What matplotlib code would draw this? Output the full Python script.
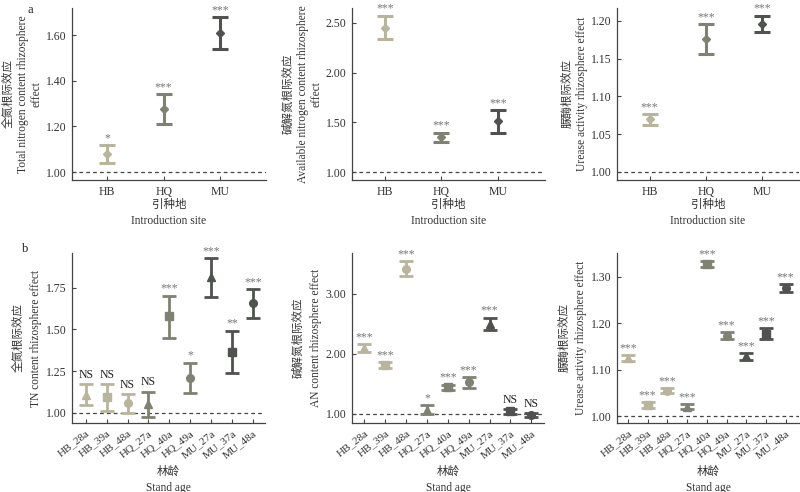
import numpy as np
import matplotlib
matplotlib.use("Agg")
import matplotlib.pyplot as plt

plt.rcParams['font.family'] = ['Liberation Serif', 'Noto Sans CJK SC']
plt.rcParams['axes.unicode_minus'] = False

# ---- data: introduction site (panel a) ----
sites = ['HB', 'HQ', 'MU']
tn_mean = [1.08, 1.276, 1.611]
tn_lo = [1.041, 1.21, 1.542]
tn_hi = [1.118, 1.342, 1.681]
tn_sig = ['*', '***', '***']

an_mean = [2.453, 1.349, 1.514]
an_lo = [2.336, 1.305, 1.396]
an_hi = [2.571, 1.396, 1.624]
an_sig = ['***', '***', '***']

ur_mean = [1.0698, 1.1757, 1.196]
ur_lo = [1.0623, 1.1563, 1.1854]
ur_hi = [1.0764, 1.1956, 1.2066]
ur_sig = ['***', '***', '***']

# ---- data: stand age (panel b) ----
ages = ['HB_28a', 'HB_39a', 'HB_48a', 'HQ_27a', 'HQ_40a', 'HQ_49a',
        'MU_27a', 'MU_37a', 'MU_48a']
tn2_mean = [1.106, 1.094, 1.056, 1.052, 1.58, 1.206, 1.812, 1.366, 1.656]
tn2_lo = [1.046, 1.012, 0.996, 0.972, 1.45, 1.116, 1.696, 1.236, 1.566]
tn2_hi = [1.17, 1.17, 1.11, 1.126, 1.702, 1.30, 1.926, 1.492, 1.74]
tn2_sig = ['NS', 'NS', 'NS', 'NS', '***', '*', '***', '**', '***']

an2_mean = [2.10, 1.81, 3.405, 1.066, 1.437, 1.52, 2.49, 1.04, 0.975]
an2_lo = [2.033, 1.758, 3.289, 1.0, 1.387, 1.426, 2.393, 0.995, 0.945]
an2_hi = [2.161, 1.857, 3.537, 1.138, 1.481, 1.608, 2.597, 1.077, 1.005]
an2_sig = ['***', '***', '***', '*', '***', '***', '***', 'NS', 'NS']

ur2_mean = [1.125, 1.024, 1.055, 1.021, 1.327, 1.1736, 1.1286, 1.177, 1.275]
ur2_lo = [1.12, 1.018, 1.05, 1.016, 1.32, 1.1665, 1.1215, 1.1658, 1.268]
ur2_hi = [1.1315, 1.030, 1.061, 1.0265, 1.3336, 1.181, 1.1358, 1.1894, 1.2837]
ur2_sig = ['***'] * 9

site_colors = {'HB': '#b9b59c', 'HQ': '#7f8172', 'MU': '#4f524e'}
age_markers = ['^', 's', 'o'] * 3
txt = '#333333'
star_col = '#777777'
FS_TICK = 8.5
FS_LAB = 8.3

fig = plt.figure(figsize=(8, 4.92), dpi=100)
W, H = 800.0, 492.0


def make_ax(x0, x1, ytop, ybot):
    return fig.add_axes([x0 / W, 1 - ybot / H, (x1 - x0) / W, (ybot - ytop) / H])


def style(ax):
    for s in ['top', 'right']:
        ax.spines[s].set_visible(False)
    for s in ['left', 'bottom']:
        ax.spines[s].set_color('#444444')
        ax.spines[s].set_linewidth(0.9)
    ax.tick_params(direction='in', length=3, width=0.8, colors='#444444',
                   labelcolor=txt, labelsize=FS_TICK, pad=4)
    ax.axhline(1.0, color='#444444', ls=(0, (3, 2.5)), lw=0.9, zorder=1)


def draw(ax, labels, mean, lo, hi, sig, markers, ms, capsize, lw, sig_off):
    x = np.arange(len(labels))
    for i, lab in enumerate(labels):
        c = site_colors[lab[:2]]
        ax.errorbar(x[i], mean[i], yerr=[[mean[i] - lo[i]], [hi[i] - mean[i]]],
                    fmt=markers[i], color=c, ms=ms, capsize=capsize,
                    elinewidth=lw, capthick=lw, zorder=3)
        if sig[i] == 'NS':
            ax.text(x[i], hi[i] + sig_off, 'NS', ha='center', va='bottom',
                    fontsize=8.5, color='#222222')
        else:
            ax.text(x[i], hi[i] + sig_off * 0.3, sig[i], ha='center', va='bottom',
                    fontsize=8.5, color=star_col)
    ax.set_xticks(x)


# ---- top row ----
ax1 = make_ax(72, 266, 8, 180)
ax2 = make_ax(352, 545, 8, 180)
ax3 = make_ax(617, 799, 8, 180)

tops = [
    (ax1, tn_mean, tn_lo, tn_hi, tn_sig, (0.965, 1.72), (-0.62, 2.81),
     [1.0, 1.2, 1.4, 1.6], '全氮根际效应\nTotal nitrogen content rhizosphere\neffect'),
    (ax2, an_mean, an_lo, an_hi, an_sig, (0.92, 2.65), (-0.58, 2.83),
     [1.0, 1.5, 2.0, 2.5], '碱解氮根际效应\nAvailable nitrogen content rhizosphere\neffect'),
    (ax3, ur_mean, ur_lo, ur_hi, ur_sig, (0.9894, 1.217), (-0.58, 2.65),
     [1.0, 1.05, 1.10, 1.15, 1.20], '脲酶根际效应\nUrease activity rhizosphere effect'),
]
for ax, m, lo, hi, sg, yl, xl, yt, ylab in tops:
    style(ax)
    span = yl[1] - yl[0]
    draw(ax, sites, m, lo, hi, sg, ['D'] * 3, 4, 6, 2.2, span * 0.02)
    ax.set_ylim(*yl)
    ax.set_xlim(*xl)
    ax.set_yticks(yt)
    ax.set_yticklabels(['%.2f' % v for v in yt])
    ax.set_xticklabels(sites)
    ax.set_xlabel('引种地\nIntroduction site', fontsize=FS_LAB, color=txt,
                  linespacing=1.45, labelpad=1)
    ax.set_ylabel(ylab, fontsize=FS_LAB, color=txt, linespacing=1.25, labelpad=2)

# ---- bottom row ----
bx1 = make_ax(72, 265, 253, 423)
bx2 = make_ax(352, 544, 253, 423)
bx3 = make_ax(617, 799, 253, 423)

bots = [
    (bx1, tn2_mean, tn2_lo, tn2_hi, tn2_sig, (0.938, 1.958), (-0.66, 8.58),
     [1.0, 1.25, 1.5, 1.75], '全氮根际效应\nTN content rhizosphere effect'),
    (bx2, an2_mean, an2_lo, an2_hi, an2_sig, (0.846, 3.675), (-0.59, 8.61),
     [1.0, 2.0, 3.0], '碱解氮根际效应\nAN content rhizosphere effect'),
    (bx3, ur2_mean, ur2_lo, ur2_hi, ur2_sig, (0.9857, 1.351), (-0.56, 8.68),
     [1.0, 1.1, 1.2, 1.3], '脲酶根际效应\nUrease activity rhizosphere effect'),
]
for ax, m, lo, hi, sg, yl, xl, yt, ylab in bots:
    style(ax)
    span = yl[1] - yl[0]
    draw(ax, ages, m, lo, hi, sg, age_markers, 5.5, 5, 2.0, span * 0.02)
    ax.set_ylim(*yl)
    ax.set_xlim(*xl)
    ax.set_yticks(yt)
    ax.set_yticklabels(['%.2f' % v for v in yt])
    ax.set_xticklabels(ages, rotation=38, ha='right', rotation_mode='anchor', fontsize=8)
    ax.set_xlabel('林龄\nStand age', fontsize=FS_LAB, color=txt,
                  linespacing=1.45, labelpad=4)
    ax.set_ylabel(ylab, fontsize=FS_LAB, color=txt, linespacing=1.5, labelpad=3)

fig.text(27 / W, 1 - 10 / H, 'a', fontsize=9, color='#222222', va='center')
fig.text(22 / W, 1 - 249 / H, 'b', fontsize=9, color='#222222', va='center')

fig.savefig('out.png', dpi=100)
